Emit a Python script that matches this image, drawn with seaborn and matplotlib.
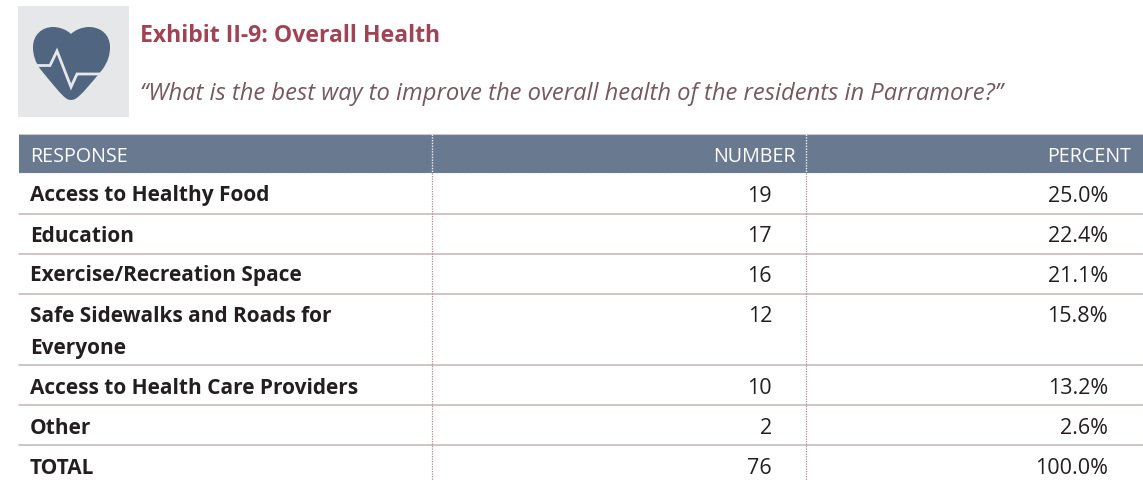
import matplotlib
matplotlib.use("Agg")
import matplotlib.pyplot as plt
from matplotlib.patches import Rectangle, PathPatch
from matplotlib.path import Path
import seaborn as sns

title = "Exhibit II-9: Overall Health"
question = "\u201cWhat is the best way to improve the overall health of the residents in Parramore?\u201d"
headers = ["RESPONSE", "NUMBER", "PERCENT"]
responses = ["Access to Healthy Food", "Education", "Exercise/Recreation Space",
             "Safe Sidewalks and Roads for\nEveryone", "Access to Health Care Providers",
             "Other", "TOTAL"]
numbers = [19, 17, 16, 12, 10, 2, 76]
percents = [25.0, 22.4, 21.1, 15.8, 13.2, 2.6, 100.0]

sns.set_theme(style="white")
plt.rcParams["font.family"] = ["Open Sans", "DejaVu Sans"]

fig = plt.figure(figsize=(11.43, 4.80), dpi=100)
ax = fig.add_axes([0, 0, 1, 1])
ax.set_xlim(0, 1143)
ax.set_ylim(480, 0)
ax.axis("off")
sns.despine(ax=ax, left=True, bottom=True)

NAVY = "#4F6580"
HEAD = "#69798F"
RULE = "#C4B4B4"
DOT = "#A88E94"
TXT = "#231F20"

# icon
ax.add_patch(Rectangle((18, 6), 111, 111, fc="#E6E7E8", ec="none"))
heart = Path(
    [(71, 100), (66, 100), (63, 97), (41, 70), (35, 62), (33, 55), (33, 47),
     (33, 35), (42, 27), (53, 27), (60, 27), (67, 30), (71, 34),
     (75, 30), (82, 27), (89, 27), (101, 27), (110, 35), (110, 47),
     (110, 55), (108, 62), (102, 70), (80, 97), (76, 100), (71, 100)],
    [Path.MOVETO] + [Path.CURVE4] * 24)
ax.add_patch(PathPatch(heart, fc=NAVY, ec="none"))
ax.plot([36, 50, 57, 71, 77, 104], [65.5, 65.5, 51, 87, 74, 74], color="#E6E7E8", lw=2.0,
        solid_joinstyle="miter")

ax.text(140, 36, title, color="#A04455", fontsize=16.6, fontweight="bold", va="center", ha="left")
ax.text(140, 94, question, color="#75595F", fontsize=17.1, fontstyle="italic", va="center", ha="left")

# header
ax.add_patch(Rectangle((19, 134), 1124, 39, fc=HEAD, ec="none"))
ax.plot([19, 1143], [133.5, 133.5], color="#C5CAD3", lw=0.8)
ax.plot([19, 1143], [173, 173], color="#E8EAEE", lw=0.8, ls=(0, (1, 1)))
ax.text(30, 157, headers[0], color="white", fontsize=14.2, va="center", ha="left")
ax.text(796, 157, headers[1], color="white", fontsize=14.2, va="center", ha="right")
ax.text(1131, 157, headers[2], color="white", fontsize=14.2, va="center", ha="right")

# rows
row_lines = [213.5, 253.5, 293.5, 365, 405, 445]
row_y = [194, 234, 274, 314, 386, 426, 466]
for y in row_lines:
    ax.plot([19, 1143], [y, y], color=RULE, lw=1.1)
for x in (432, 806):
    ax.plot([x, x], [134, 173], color="#EEF0F3", lw=1.0, ls=(0, (1, 1)))
    ax.plot([x, x], [173, 480], color=DOT, lw=0.9, ls=(0, (1, 1)))
for y, r, n, p in zip(row_y, responses, numbers, percents):
    ax.text(30, y - 8.5, r, color=TXT, fontsize=15, fontweight="bold", va="top", ha="left",
            linespacing=1.73)
    ax.text(772, y + 3, str(n), color=TXT, fontsize=15.5, va="center", ha="right")
    ax.text(1108, y + 3, f"{p:.1f}%", color=TXT, fontsize=15.5, va="center", ha="right")

fig.savefig("out.png", dpi=100, facecolor="white")
